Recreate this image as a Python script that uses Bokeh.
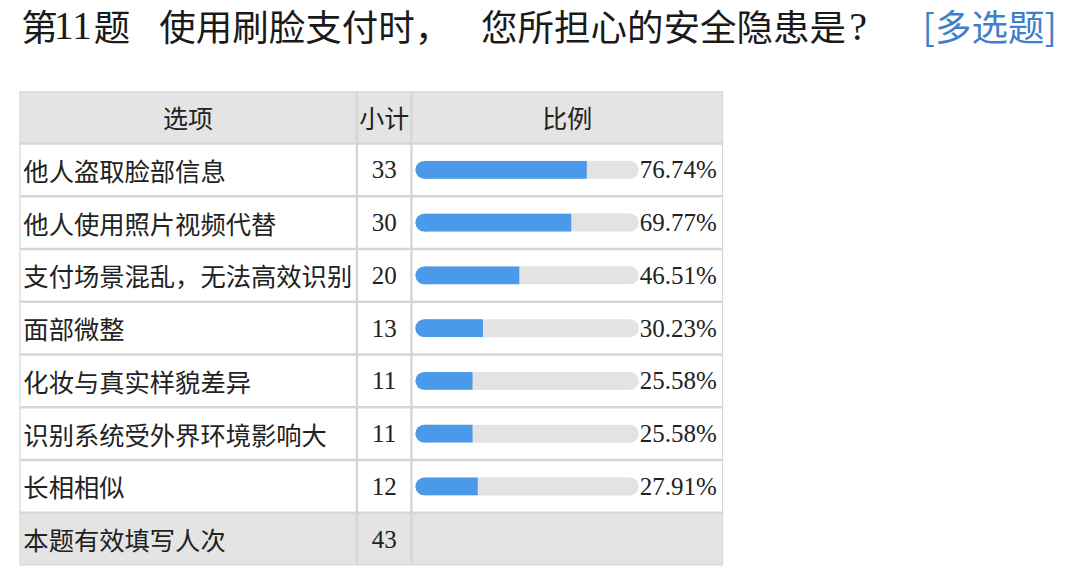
from bokeh.plotting import figure
from bokeh.models import ColumnDataSource, Range1d
from bokeh.core.properties import value
from bokeh.embed import file_html
from bokeh.resources import INLINE

# ---- data ----
headers = ["选项", "小计", "比例"]
options = ["他人盗取脸部信息", "他人使用照片视频代替", "支付场景混乱，无法高效识别",
           "面部微整", "化妆与真实样貌差异", "识别系统受外界环境影响大", "长相相似"]
counts = [33, 30, 20, 13, 11, 11, 12]
pcts = [76.74, 69.77, 46.51, 30.23, 25.58, 25.58, 27.91]
total_label = "本题有效填写人次"
total_count = 43
title_parts_cjk = ["第", "题", "使用刷脸支付时，", "您所担心的安全隐患是"]
title_num = "11"
title_q = "?"
title_tag = "[多选题]"

CJK = value("Noto Sans CJK SC")
SERIF = value("Liberation Serif")

# ---- layout (pixel coordinates of the picture) ----
W, H = 1072, 567
p = figure(width=W, height=H, x_range=Range1d(0, 1080), y_range=Range1d(575, 0),
           output_backend="svg", toolbar_location=None, min_border=0)
p.axis.visible = False
p.grid.visible = False
p.outline_line_color = None
p.background_fill_color = "white"
p.border_fill_color = "white"

col_edges = [19, 359, 414, 728]
top = 92
head_h = 53
row_h = 53.5
n_rows = len(options) + 1
row_edges = [top, top + head_h] + [top + head_h + row_h * (i + 1) for i in range(n_rows)]
bottom = row_edges[-1]

# table background (border colour)
p.quad(left=[col_edges[0]], right=[col_edges[-1]], top=[top], bottom=[bottom],
       fill_color="#d6d6d6", line_color=None)

# cells
L, R, T, B, C = [], [], [], [], []
for ri in range(len(row_edges) - 1):
    for ci in range(3):
        L.append(col_edges[ci] + 1.2)
        R.append(col_edges[ci + 1] - 1.2)
        T.append(row_edges[ri] + 1.2)
        B.append(row_edges[ri + 1] - 1.2)
        if ri == 0 or ri == len(row_edges) - 2:
            C.append("#e4e4e4")
        else:
            C.append("#ffffff")
p.quad(left=L, right=R, top=T, bottom=B, fill_color=C, line_color=None)

# header text
hx = [(col_edges[i] + col_edges[i + 1]) / 2 for i in range(3)]
hy = [(row_edges[0] + row_edges[1]) / 2] * 3
p.text(x=hx, y=hy, text=headers, text_font=CJK, text_font_size="25px",
       text_align="center", text_baseline="middle", text_color="#222222")

# row centres
yc = [(row_edges[i + 1] + row_edges[i + 2]) / 2 for i in range(len(options))]
yt = (row_edges[-2] + row_edges[-1]) / 2

# option labels
p.text(x=[23] * len(options) + [23], y=yc + [yt], text=options + [total_label],
       text_font=CJK, text_font_size="25.3px", text_align="left",
       text_baseline="middle", text_color="#222222")

# counts
cx = (col_edges[1] + col_edges[2]) / 2
p.text(x=[cx] * (len(counts) + 1), y=yc + [yt], text=[str(c) for c in counts] + [str(total_count)],
       text_font=SERIF, text_font_size="25px", text_align="center",
       text_baseline="middle", text_color="#222222")

# bars
bar_x0 = 418
bar_w = 225
rad = 9
src = ColumnDataSource(dict(
    y=yc,
    x0=[bar_x0 + rad] * len(pcts),
    x1=[bar_x0 + bar_w - rad] * len(pcts),
    xe=[bar_x0 + v / 100 * bar_w for v in pcts],
    top=[y - rad for y in yc],
    bot=[y + rad for y in yc],
    lab=[f"{v:.2f}%" for v in pcts],
    lx=[bar_x0 + bar_w + 1] * len(pcts),
))
p.segment(x0="x0", y0="y", x1="x1", y1="y", source=src, line_width=18,
          line_cap="round", line_color="#e3e3e3")
p.quad(left="x0", right="xe", top="top", bottom="bot", source=src,
       fill_color="#4a9ae9", line_color=None)
p.ellipse(x="x0", y="y", width=2 * rad, height=2 * rad, source=src,
          fill_color="#4a9ae9", line_color=None)
p.text(x="lx", y="y", text="lab", source=src, text_font=SERIF, text_font_size="25px",
       text_align="left", text_baseline="middle", text_color="#222222")

# title
ty = 25
p.text(x=[21, 94, 160, 484], y=[ty] * 4, text=title_parts_cjk, text_font=CJK,
       text_font_size="36.5px", text_align="left", text_baseline="middle", text_color="#1a1a1a")
p.text(x=[54], y=[ty + 1], text=[title_num], text_font=SERIF, text_font_size="39px",
       text_align="left", text_baseline="middle", text_color="#1a1a1a")
p.text(x=[855], y=[ty + 1], text=[title_q], text_font=SERIF, text_font_size="40px",
       text_align="left", text_baseline="middle", text_color="#1a1a1a")
p.text(x=[929], y=[ty], text=[title_tag], text_font=CJK, text_font_size="36.5px",
       text_align="left", text_baseline="middle", text_color="#3f80cc")

open("out.html", "w").write(file_html(p, INLINE))
